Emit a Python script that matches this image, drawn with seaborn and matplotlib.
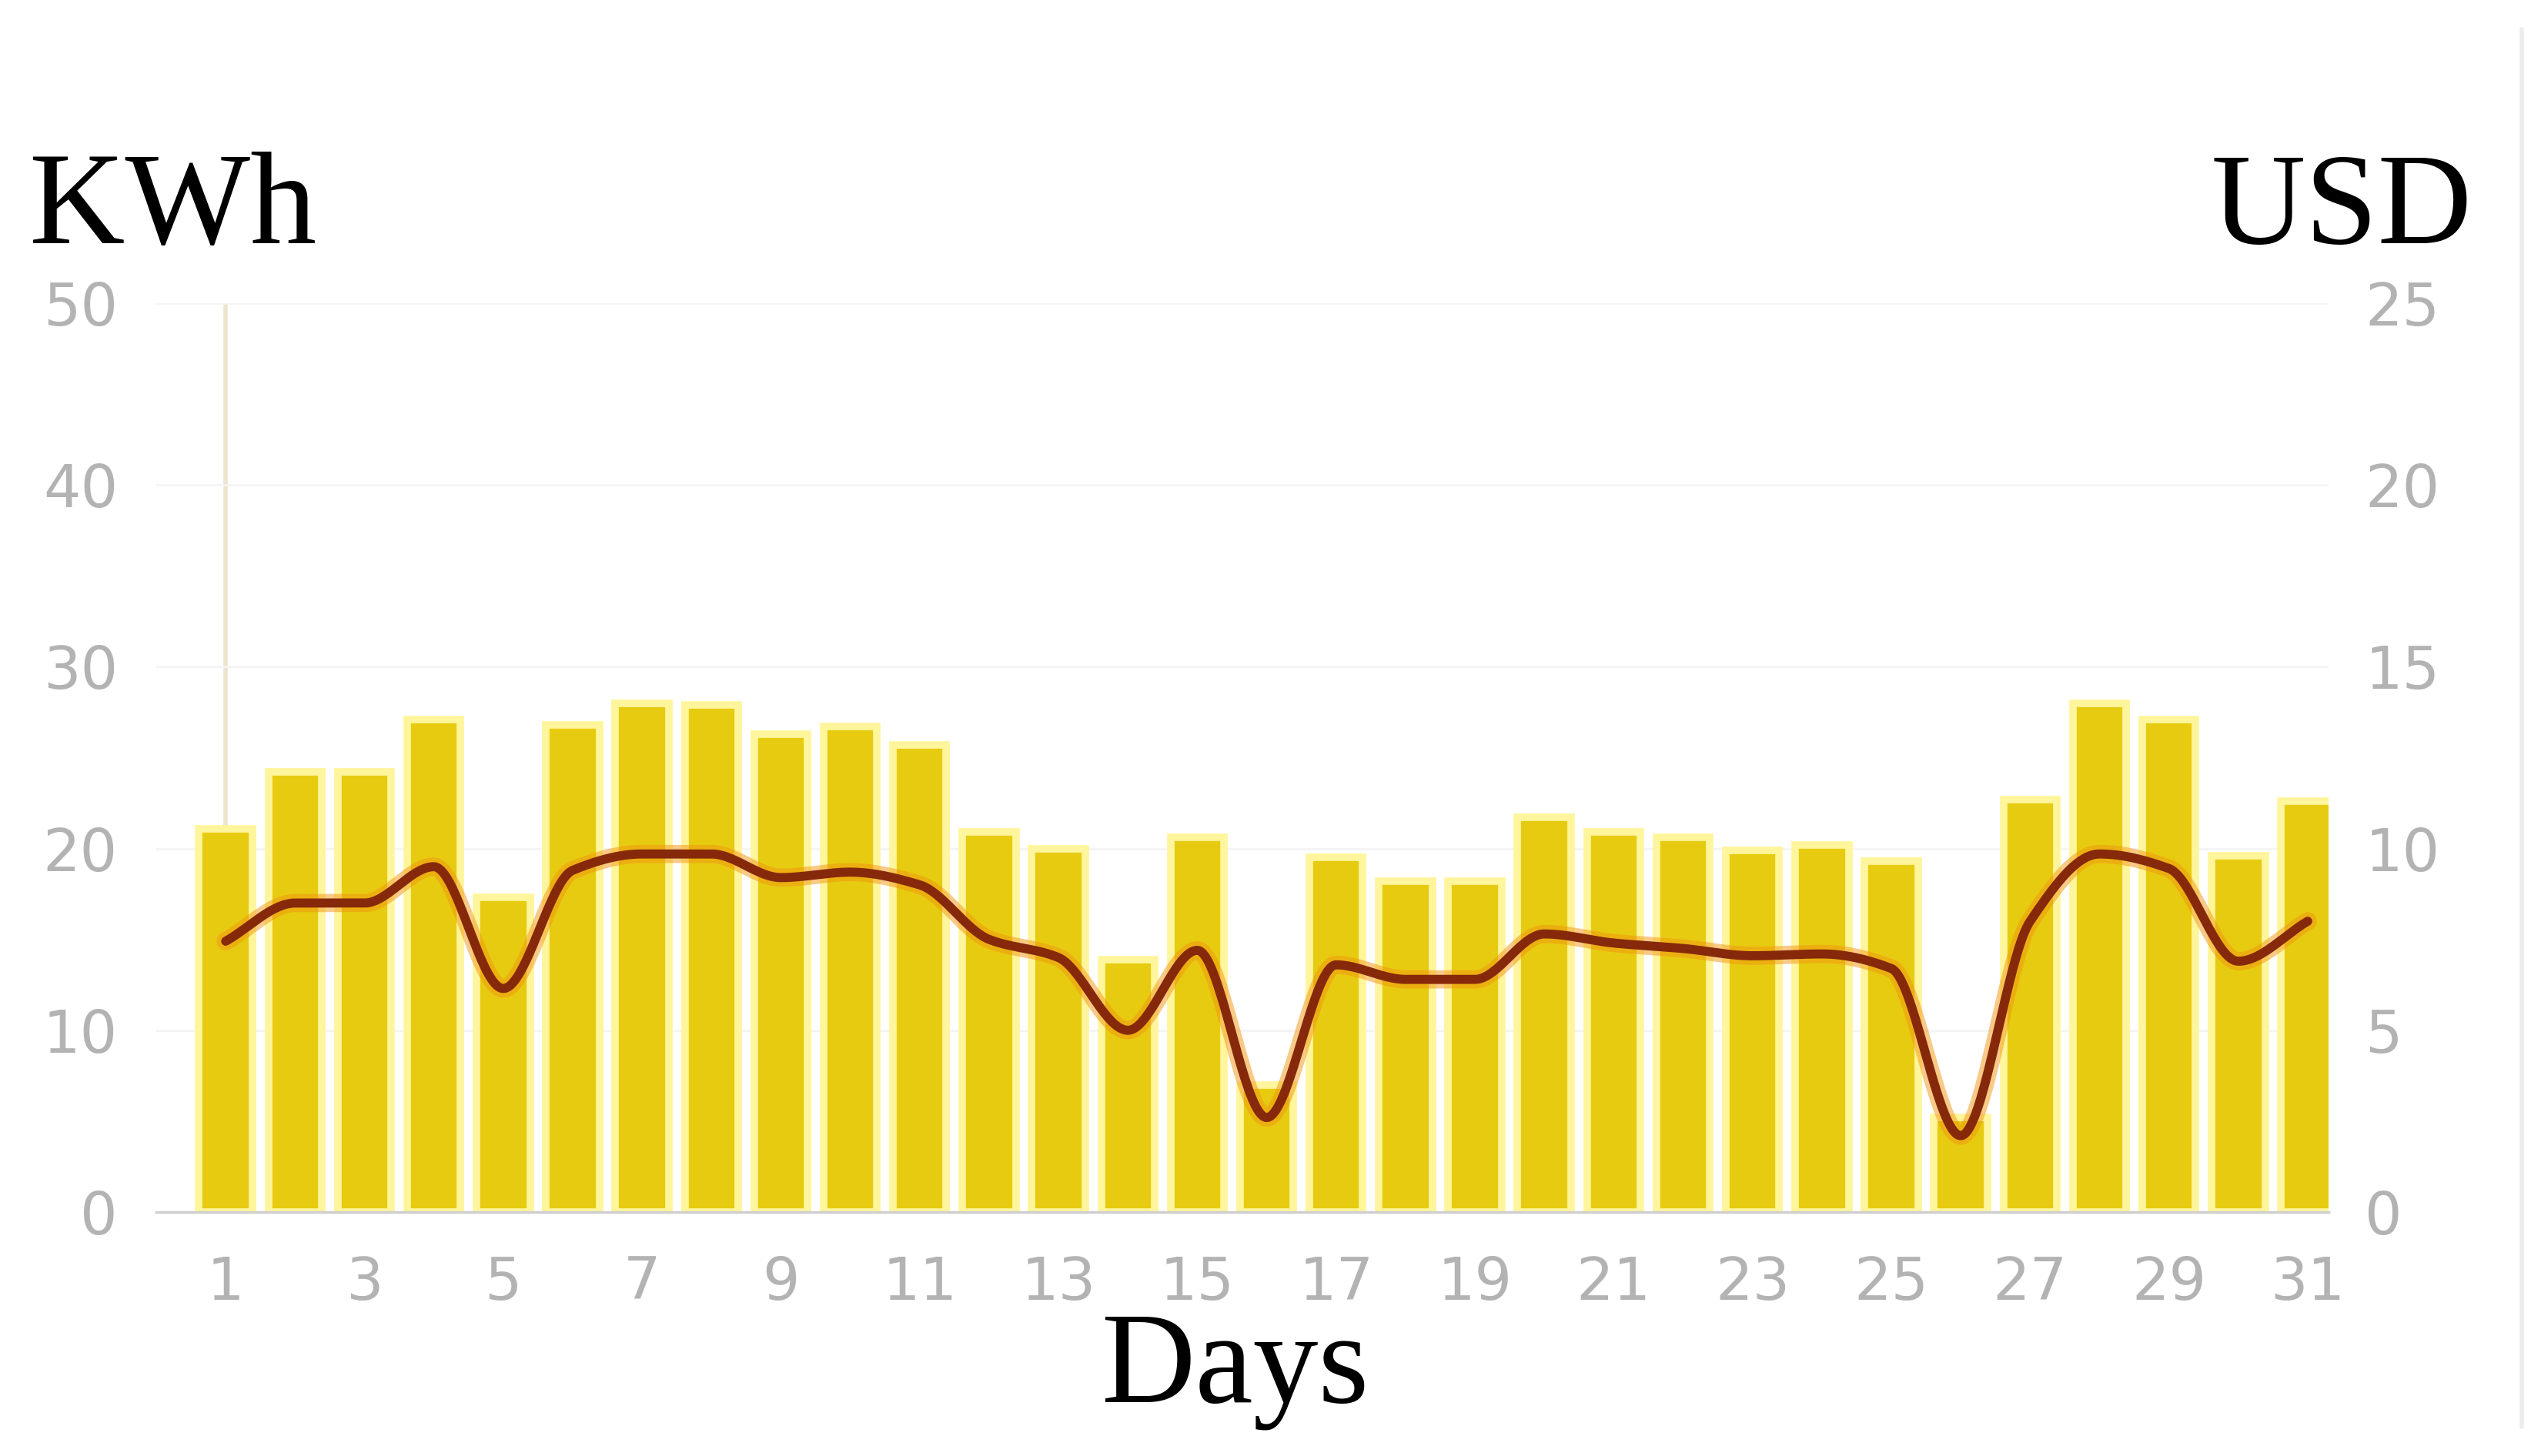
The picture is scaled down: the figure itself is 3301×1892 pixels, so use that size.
import numpy as np
import pandas as pd
import matplotlib
matplotlib.use("Agg")
import matplotlib.pyplot as plt
import seaborn as sns

# ---------------- data ----------------
days = list(range(1, 32))
kwh = [21.1, 24.2, 24.2, 27.1, 17.3, 26.8, 28.0, 27.9, 26.3, 26.7, 25.7,
       20.9, 20.0, 13.9, 20.6, 7.0, 19.5, 18.2, 18.2, 21.7, 20.9, 20.6,
       19.9, 20.2, 19.3, 5.2, 22.7, 28.0, 27.1, 19.6, 22.6]
usd = [7.45, 8.5, 8.5, 9.5, 6.15, 9.4, 9.85, 9.85, 9.2, 9.35, 9.0,
       7.5, 7.0, 5.0, 7.2, 2.6, 6.8, 6.4, 6.4, 7.65, 7.4, 7.25,
       7.05, 7.1, 6.7, 2.1, 8.0, 9.85, 9.45, 6.9, 8.0]
x_ticks = list(range(1, 32, 2))
x_tick_labels = [str(d) for d in x_ticks]
kwh_ticks = [0, 10, 20, 30, 40, 50]
usd_ticks = [0, 5, 10, 15, 20, 25]

df = pd.DataFrame({"day": days, "kwh": kwh, "usd": usd})


def pchip(x, y, xs):
    x = np.asarray(x, float)
    y = np.asarray(y, float)
    h = np.diff(x)
    delta = np.diff(y) / h
    n = len(x)
    d = np.zeros(n)
    for k in range(1, n - 1):
        if delta[k - 1] * delta[k] <= 0:
            d[k] = 0.0
        else:
            w1 = 2 * h[k] + h[k - 1]
            w2 = h[k] + 2 * h[k - 1]
            d[k] = (w1 + w2) / (w1 / delta[k - 1] + w2 / delta[k])
    d[0] = delta[0]
    d[-1] = delta[-1]
    idx = np.clip(np.searchsorted(x, xs) - 1, 0, n - 2)
    t = (xs - x[idx]) / h[idx]
    h00 = 2 * t**3 - 3 * t**2 + 1
    h10 = t**3 - 2 * t**2 + t
    h01 = -2 * t**3 + 3 * t**2
    h11 = t**3 - t**2
    return h00 * y[idx] + h10 * h[idx] * d[idx] + h01 * y[idx + 1] + h11 * h[idx] * d[idx + 1]


# ---------------- style ----------------
sns.set_theme(style="white")
plt.rcParams["font.family"] = ["DejaVu Sans"]

W, H = 3301, 1892
fig = plt.figure(figsize=(W / 100, H / 100), dpi=100)
ax_left, ax_right = 203, 3025
ax_top, ax_bot = 394, 1575
ax = fig.add_axes([ax_left / W, 1 - ax_bot / H, (ax_right - ax_left) / W, (ax_bot - ax_top) / H])

tick_col = "#b3b3b3"
bar_col = "#E7CB10"
glow_col = "#FFF59C"
tick_size = 55

# cursor line at day 1
ax.axvline(1, 0, 1, color="#ECE4CC", lw=4, zorder=0.5)

sns.barplot(data=df, x="day", y="kwh", native_scale=True, width=0.77,
            color=bar_col, saturation=1, edgecolor=glow_col, linewidth=7,
            ax=ax, zorder=2)

ax.set_xlim(0, 31.3)
ax.set_ylim(0, 50)
ax.set_yticks(kwh_ticks)
ax.set_yticklabels([str(v) for v in kwh_ticks])
ax.set_xticks(x_ticks)
ax.set_xticklabels(x_tick_labels)
ax.yaxis.grid(True, color="#f4f4f4", lw=2, zorder=0)
ax.set_axisbelow(True)
for s in ["top", "right", "left"]:
    ax.spines[s].set_visible(False)
ax.spines["bottom"].set_color("#cfcfcf")
ax.spines["bottom"].set_linewidth(2.5)
ax.tick_params(axis="y", length=0, pad=36, labelsize=tick_size, colors=tick_col)
ax.tick_params(axis="x", length=0, pad=40, labelsize=tick_size, colors=tick_col)
ax.set_xlabel("")
ax.set_ylabel("")

# USD line (smoothed display curve through the daily values)
ax2 = ax.twinx()
xs = np.linspace(days[0], days[-1], 1200)
ys = pchip(days, usd, xs)
curve = pd.DataFrame({"x": xs, "y": ys})
sns.lineplot(data=curve, x="x", y="y", ax=ax2, color="#F29410", lw=17, alpha=0.5,
             solid_capstyle="round", zorder=3)
sns.lineplot(data=curve, x="x", y="y", ax=ax2, color="#86290A", lw=8.5,
             solid_capstyle="round", zorder=4)
ax2.set_ylim(0, 25)
ax2.set_xlim(0, 31.3)
ax2.set_yticks(usd_ticks)
ax2.set_yticklabels([str(v) for v in usd_ticks])
ax2.tick_params(axis="y", length=0, pad=34, labelsize=tick_size, colors=tick_col)
ax2.set_xlabel("")
ax2.set_ylabel("")
for s in ax2.spines.values():
    s.set_visible(False)

serif = ["Liberation Serif", "DejaVu Serif"]
fig.text(38 / W, 1 - 316 / H, "KWh", family=serif, size=124, color="black",
         ha="left", va="baseline")
fig.text(3212 / W, 1 - 316 / H, "USD", family=serif, size=122, color="black",
         ha="right", va="baseline")
fig.text(1604 / W, 1 - 1821 / H, "Days", family=serif, size=122, color="black",
         ha="center", va="baseline")

# faint frame line at right edge
fig.add_artist(plt.Line2D([3276 / W, 3276 / W], [0.02, 0.98], transform=fig.transFigure,
                          color="#ececec", lw=4))

fig.savefig("out.png", dpi=100)
